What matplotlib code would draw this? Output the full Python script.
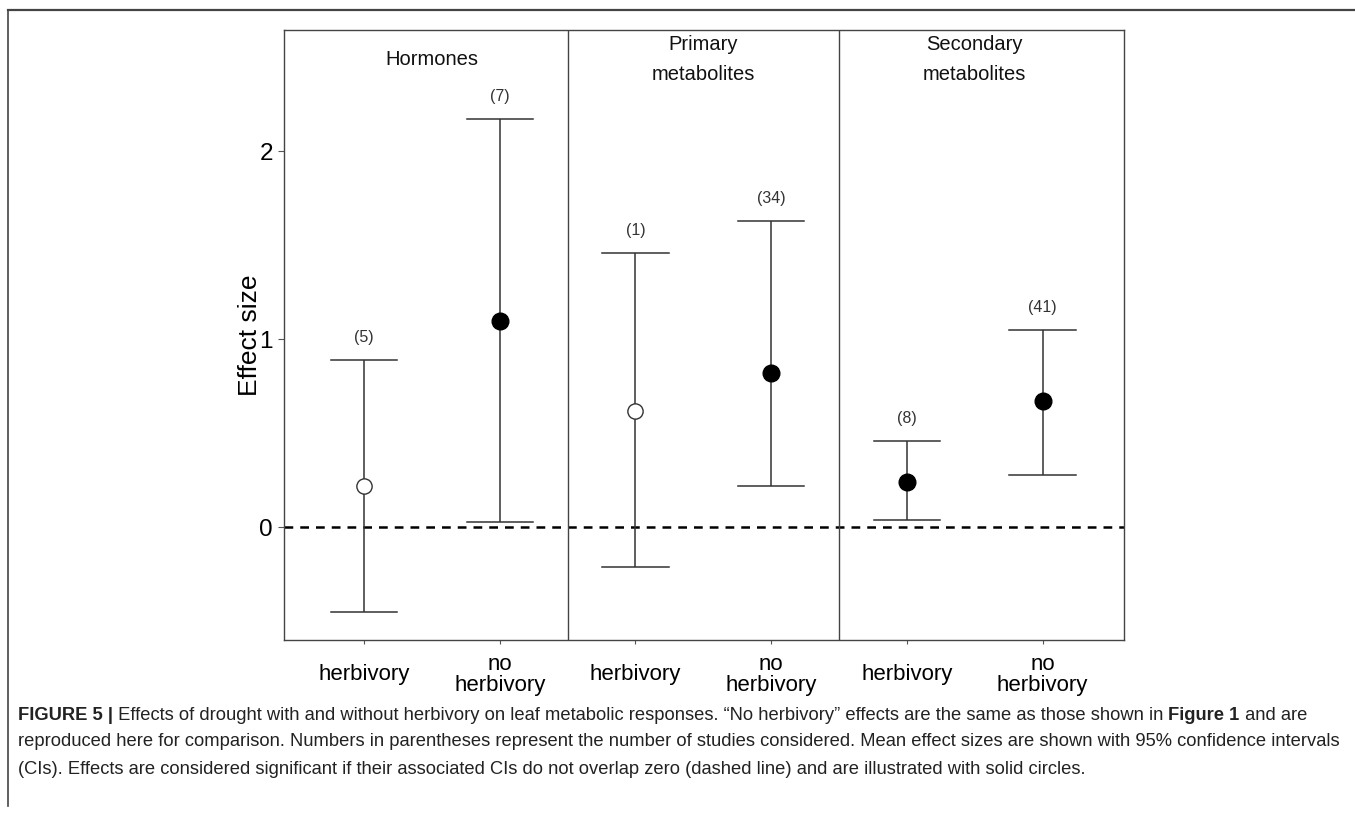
import matplotlib
matplotlib.use("Agg")
import matplotlib.pyplot as plt
from matplotlib.lines import Line2D

# ---- data -------------------------------------------------------------
groups = ["Hormones", "Primary\nmetabolites", "Secondary\nmetabolites"]
treatments = ["herbivory", "no\nherbivory"]
effect_mean = [0.22, 1.10, 0.62, 0.82, 0.24, 0.67]
ci_lower = [-0.45, 0.03, -0.21, 0.22, 0.04, 0.28]
ci_upper = [0.89, 2.17, 1.46, 1.63, 0.46, 1.05]
n_studies = [5, 7, 1, 34, 8, 41]

caption_lines = [
    [("FIGURE 5 |", "bold"),
     (" Effects of drought with and without herbivory on leaf metabolic responses. \u201cNo herbivory\u201d effects are the same as those shown in ", "normal"),
     ("Figure 1", "bold"),
     (" and are", "normal")],
    [("reproduced here for comparison. Numbers in parentheses represent the number of studies considered. Mean effect sizes are shown with 95% confidence intervals", "normal")],
    [("(CIs). Effects are considered significant if their associated CIs do not overlap zero (dashed line) and are illustrated with solid circles.", "normal")],
]

plt.rcParams["font.family"] = ["Liberation Sans", "DejaVu Sans"]

W, H = 1355, 814
fig = plt.figure(figsize=(W / 100, H / 100), dpi=100)
fig.patch.set_facecolor("white")

ax = fig.add_axes([284 / W, 1 - 640 / H, (1124 - 284) / W, (640 - 30) / H])

x = list(range(1, len(effect_mean) + 1))
line_col = "#333333"

# confidence intervals with caps
cap = 0.245
for xi, lo, hi in zip(x, ci_lower, ci_upper):
    ax.plot([xi, xi], [lo, hi], color=line_col, lw=1.1, zorder=2, solid_capstyle="butt")
    ax.plot([xi - cap, xi + cap], [lo, lo], color=line_col, lw=1.1, zorder=2)
    ax.plot([xi - cap, xi + cap], [hi, hi], color=line_col, lw=1.1, zorder=2)

# mean effects: filled when the CI excludes zero
for xi, m, lo, hi in zip(x, effect_mean, ci_lower, ci_upper):
    significant = lo > 0 or hi < 0
    if significant:
        ax.plot(xi, m, "o", ms=12, mfc="black", mec="black", mew=1.0, zorder=3)
    else:
        ax.plot(xi, m, "o", ms=11, mfc="white", mec="#333333", mew=1.0, zorder=3)

# number of studies above each interval
for xi, hi, n in zip(x, ci_upper, n_studies):
    ax.text(xi, hi + 0.12, f"({n})", ha="center", va="center",
            fontsize=11.5, color="#333333")

# zero reference
ax.axhline(0, color="black", lw=1.8, ls=(0, (3.5, 2.8)), zorder=1)

# group separators and titles
for k, g in enumerate(groups):
    if k > 0:
        ax.axvline(2 * k + 0.5, color="#444444", lw=1.0, zorder=1)
    ax.text(2 * k + 1.5, 2.49, g, ha="center", va="center", fontsize=14.5,
            linespacing=1.75, color="#111111")

ax.set_xlim(0.41, 6.6)
ax.set_ylim(-0.6, 2.646)
ax.set_yticks([0, 1, 2])
ax.set_yticklabels(["0", "1", "2"], fontsize=17.5)
ax.set_xticks(x)
ax.set_xticklabels(treatments * len(groups), fontsize=16, linespacing=1.0)
for lab in ax.get_xticklabels():
    lab.set_va("center")
ax.tick_params(axis="x", length=3, width=0.8, color="#555555", pad=22)
ax.tick_params(axis="y", length=4, width=0.8, color="#555555", pad=4)
for s in ax.spines.values():
    s.set_color("#444444")
    s.set_linewidth(1.0)
ax.set_ylabel("Effect size", fontsize=19, labelpad=-2)

# frame lines of the figure panel
fig.add_artist(Line2D([8 / W, 1], [1 - 10 / H, 1 - 10 / H], color="#444444", lw=1.6))
fig.add_artist(Line2D([8 / W, 8 / W], [1 - 10 / H, 1 - 806 / H], color="#444444", lw=1.2))

# caption: size chosen so the first line spans the text block width
renderer = fig.canvas.get_renderer()


def text_width(txt, weight, size):
    t = fig.text(0, 0, txt, fontsize=size, fontweight=weight)
    w = t.get_window_extent(renderer).width
    t.remove()
    return w


ref_size = 12.0
first_w = sum(text_width(t, wt, ref_size) for t, wt in caption_lines[0])
cap_size = ref_size * (1305 - 18) / first_w

x_left = 18
y_first = 715
line_step = 27
for i, pieces in enumerate(caption_lines):
    xpos = x_left
    ypos = 1 - (y_first + i * line_step) / H
    for txt, weight in pieces:
        fig.text(xpos / W, ypos, txt, ha="left", va="center",
                 fontsize=cap_size, fontweight=weight, color="#222222")
        xpos += text_width(txt, weight, cap_size)

fig.savefig("out.png", dpi=100, facecolor="white")
